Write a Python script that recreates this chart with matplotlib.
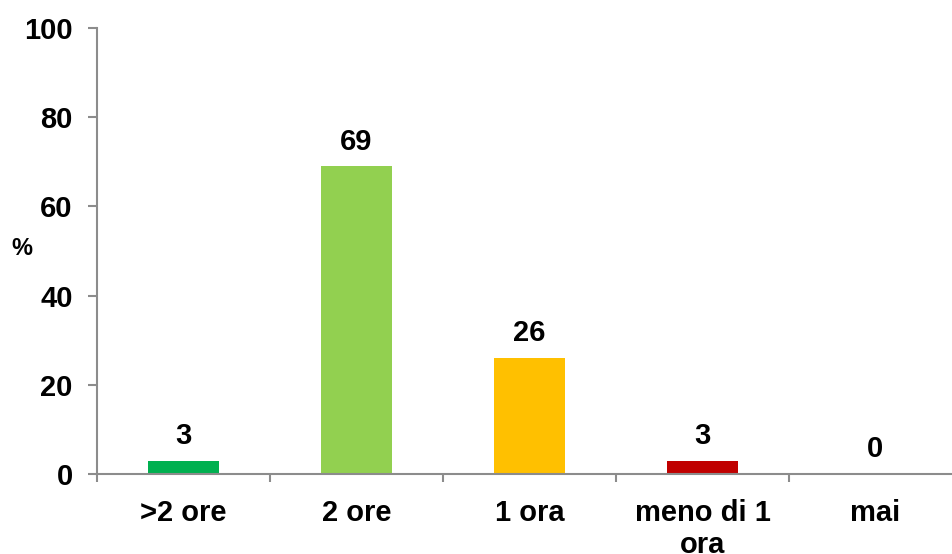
import matplotlib
matplotlib.use("Agg")
import matplotlib.pyplot as plt
import numpy as np

# Data
categories = ['>2 ore', '2 ore', '1 ora', 'meno di 1\nora', 'mai']
values = [3, 69, 26, 3, 0]
colors = ['#00B050', '#92D050', '#FFC000', '#C00000', '#FFFFFF']
y_ticks = [0, 20, 40, 60, 80, 100]

plt.rcParams['font.family'] = ['Liberation Sans', 'DejaVu Sans']
plt.rcParams['font.weight'] = 'bold'

fig = plt.figure(figsize=(9.53, 5.54), dpi=100)
ax = fig.add_axes([97 / 953, 1 - 474 / 554, 865 / 953, 446 / 554])

x = np.arange(len(categories))
ax.bar(x, values, width=0.405, color=colors)

for xi, v in zip(x, values):
    ax.annotate(f'{v}', xy=(xi, v), xytext=(0, 12), textcoords='offset points',
                ha='center', va='baseline', fontsize=21, fontweight='bold')

ax.set_xlim(-0.5, len(categories) - 0.5)
ax.set_ylim(0, 100)
ax.set_yticks(y_ticks)

# category labels at centres, tick marks at boundaries
ax.set_xticks(x)
ax.set_xticklabels(categories, fontsize=21, fontweight='bold', linespacing=1.2)
ax.set_xticks(np.arange(len(categories)) - 0.5, minor=True)
ax.tick_params(axis='x', which='major', length=0, pad=18)
ax.tick_params(axis='x', which='minor', length=6, width=1.5, color='#8C8C8C')
ax.tick_params(axis='y', length=6.5, width=1.5, color='#8C8C8C', pad=11, labelsize=21)
for lbl in ax.get_yticklabels():
    lbl.set_fontweight('bold')

for side in ['top', 'right']:
    ax.spines[side].set_visible(False)
for side in ['left', 'bottom']:
    ax.spines[side].set_color('#8C8C8C')
    ax.spines[side].set_linewidth(1.5)

fig.text(22 / 953, 1 - 249 / 554, '%', ha='center', va='center', fontsize=17, fontweight='bold')

fig.savefig('out.png', dpi=100)
